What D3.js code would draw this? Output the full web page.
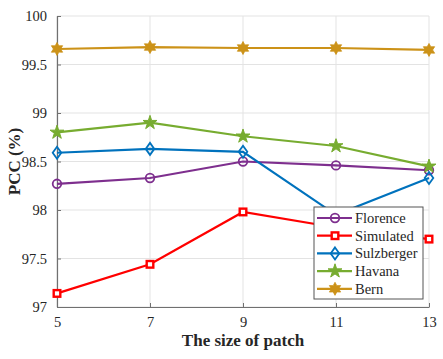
<!DOCTYPE html>
<html>
<head>
<meta charset="utf-8">
<script src="https://cdn.jsdelivr.net/npm/d3@7"></script>
<style>
	body { margin: 0; background: #fff; }
</style>
</head>
<body>
<div id="chart"></div>
<script>
const patchSizes = [5, 7, 9, 11, 13]
const florence = [98.27, 98.33, 98.50, 98.46, 98.41]
const simulated = [97.14, 97.44, 97.98, 97.82, 97.70]
const sulzberger = [98.59, 98.63, 98.60, 97.95, 98.33]
const havana = [98.80, 98.90, 98.76, 98.66, 98.45]
const bern = [99.66, 99.68, 99.67, 99.67, 99.65]
const yTicks = [97, 97.5, 98, 98.5, 99, 99.5, 100]

const series = [
	{name: "Florence", values: florence, color: "#7E2F8E", marker: "circle"},
	{name: "Simulated", values: simulated, color: "#FF0000", marker: "square"},
	{name: "Sulzberger", values: sulzberger, color: "#0072BD", marker: "diamond"},
	{name: "Havana", values: havana, color: "#77AC30", marker: "star"},
	{name: "Bern", values: bern, color: "#CC9218", marker: "hexagram"}
]

const FONT = "'Liberation Serif', 'Times New Roman', serif"
const width = 443
const height = 359
const margin = {top: 16, right: 14, bottom: 52, left: 57}

const x = d3.scaleLinear().domain([5, 13]).range([margin.left, width - margin.right])
const y = d3.scaleLinear().domain([97, 100]).range([height - margin.bottom, margin.top])

const svg = d3.select("#chart").append("svg")
	.attr("width", width)
	.attr("height", height)
	.style("font-family", FONT)

// grid
svg.append("g")
	.selectAll("line")
	.data(yTicks)
	.join("line")
	.attr("x1", margin.left).attr("x2", width - margin.right)
	.attr("y1", d => y(d)).attr("y2", d => y(d))
	.attr("stroke", "#e3e3e3").attr("stroke-width", 1)
svg.append("g")
	.selectAll("line")
	.data(patchSizes)
	.join("line")
	.attr("x1", d => x(d)).attr("x2", d => x(d))
	.attr("y1", margin.top).attr("y2", height - margin.bottom)
	.attr("stroke", "#e3e3e3").attr("stroke-width", 1)

// axes
const xAxis = svg.append("g")
	.attr("transform", `translate(0,${height - margin.bottom})`)
	.call(d3.axisBottom(x).tickValues(patchSizes).tickSize(-4).tickSizeOuter(0).tickPadding(10))
const yAxis = svg.append("g")
	.attr("transform", `translate(${margin.left},0)`)
	.call(d3.axisLeft(y).tickValues(yTicks).tickFormat(d => d).tickSize(-4).tickSizeOuter(0).tickPadding(10))

for (const ax of [xAxis, yAxis]) {
	ax.attr("font-family", null)
	ax.select(".domain").attr("stroke", "#707070").attr("stroke-width", 1.2)
	ax.selectAll(".tick line").attr("stroke", "#707070")
	ax.selectAll(".tick text")
		.style("font-family", FONT)
		.style("font-size", "14.5px")
		.attr("fill", "#262626")
}

// axis titles
svg.append("text")
	.attr("x", (margin.left + width - margin.right) / 2)
	.attr("y", 346)
	.attr("text-anchor", "middle")
	.style("font-family", FONT)
	.style("font-weight", "bold")
	.style("font-size", "17px")
	.attr("fill", "#262626")
	.text("The size of patch")
svg.append("text")
	.attr("transform", `translate(20,${(margin.top + height - margin.bottom) / 2}) rotate(-90)`)
	.attr("text-anchor", "middle")
	.style("font-family", FONT)
	.style("font-weight", "bold")
	.style("font-size", "17px")
	.attr("fill", "#262626")
	.text("PCC (%)")

// markers
function drawMarker(g, type, color) {
	if (type === "circle") {
		g.append("circle").attr("r", 4.3).attr("fill", "none").attr("stroke", color).attr("stroke-width", 1.8)
	} else if (type === "square") {
		g.append("rect").attr("x", -3.3).attr("y", -3.3).attr("width", 6.6).attr("height", 6.6)
			.attr("fill", "#fff").attr("stroke", color).attr("stroke-width", 2.4)
	} else if (type === "diamond") {
		g.append("path").attr("d", "M0,-6L4.3,0L0,6L-4.3,0Z")
			.attr("fill", "none").attr("stroke", color).attr("stroke-width", 1.8)
	} else if (type === "star") {
		g.append("path").attr("d", d3.symbol(d3.symbolStar, 60)())
			.attr("fill", color).attr("stroke", color).attr("stroke-width", 1)
	} else if (type === "hexagram") {
		const pts = []
		for (let i = 0; i < 12; i++) {
			const r = i % 2 === 0 ? 6.5 : 3.6
			const a = -Math.PI / 2 + i * Math.PI / 6
			pts.push([r * Math.cos(a), r * Math.sin(a)])
		}
		g.append("path").attr("d", d3.line()(pts) + "Z")
			.attr("fill", color).attr("stroke", color).attr("stroke-width", 0.8)
	}
}

const line = d3.line().x((d, i) => x(patchSizes[i])).y(d => y(d))

series.forEach(s => {
	const g = svg.append("g")
	g.append("path")
		.attr("d", line(s.values))
		.attr("fill", "none")
		.attr("stroke", s.color)
		.attr("stroke-width", 2.2)
	s.values.forEach((v, i) => {
		const m = g.append("g").attr("transform", `translate(${x(patchSizes[i])},${y(v)})`)
		drawMarker(m, s.marker, s.color)
	})
})

// legend
const legend = svg.append("g").attr("transform", "translate(314,207)")
legend.append("rect")
	.attr("width", 109).attr("height", 92)
	.attr("fill", "#fff").attr("stroke", "#555").attr("stroke-width", 1)
series.forEach((s, i) => {
	const row = legend.append("g").attr("transform", `translate(0,${11 + i * 17.7})`)
	row.append("line").attr("x1", 3).attr("x2", 38).attr("y1", 0).attr("y2", 0)
		.attr("stroke", s.color).attr("stroke-width", 2.2)
	const m = row.append("g").attr("transform", "translate(21,0)")
	drawMarker(m, s.marker, s.color)
	row.append("text")
		.attr("x", 41).attr("y", 5)
		.style("font-family", FONT)
		.style("font-size", "14.5px")
		.attr("fill", "#262626")
		.text(s.name)
})
</script>
</body>
</html>
